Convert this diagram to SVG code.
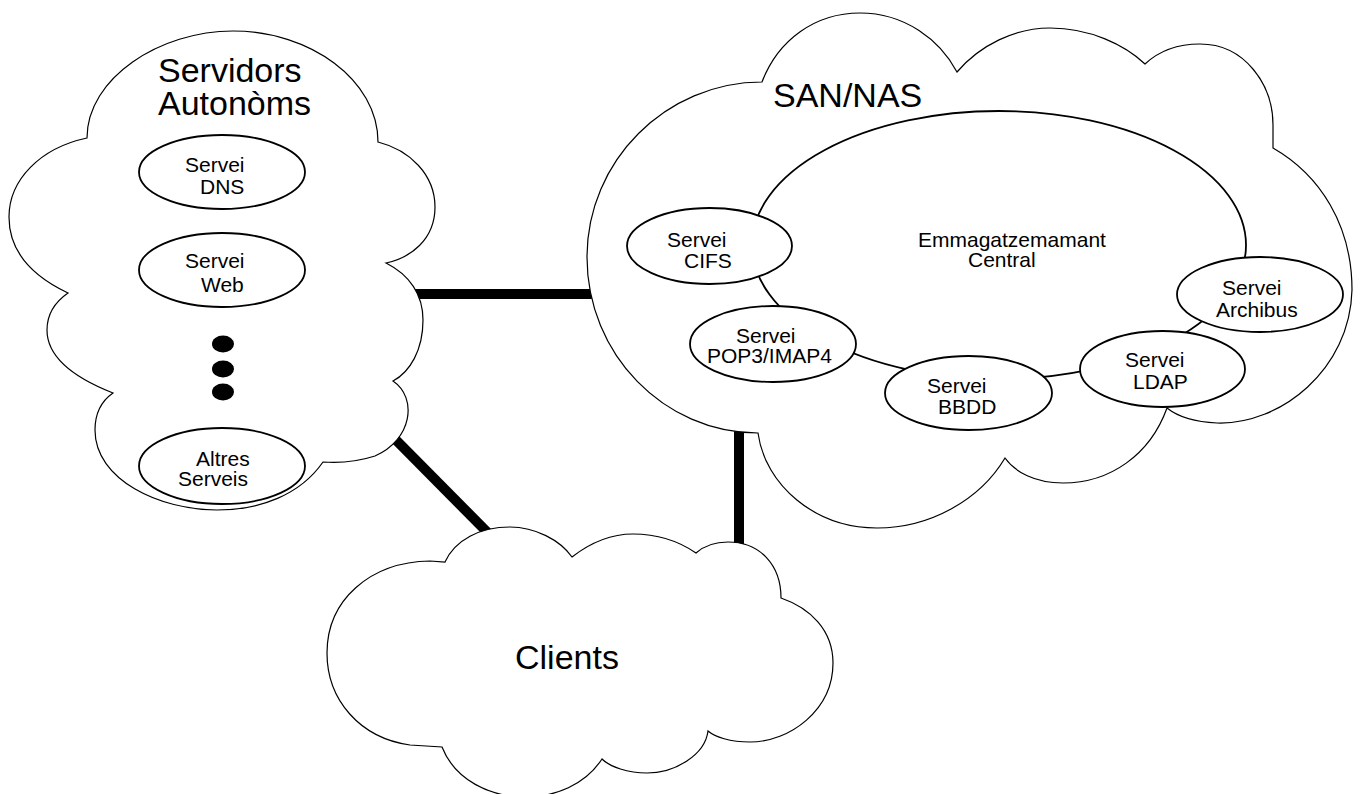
<svg xmlns="http://www.w3.org/2000/svg" width="1361" height="794" viewBox="0 0 1361 794">
  <style>
    .cloud { fill: #ffffff; stroke: #000000; stroke-width: 1.2; stroke-linejoin: miter; }
    .svc { fill: #ffffff; stroke: #000000; stroke-width: 1.8; }
    .store { fill: none; stroke: #000000; stroke-width: 1.8; }
    .link { stroke: #000000; stroke-width: 10; stroke-linecap: butt; fill: none; }
    .dot { fill: #000000; }
    text { font-family: "Liberation Sans", Arial, sans-serif; fill: #000000; }
    .big { font-size: 34px; }
    .small { font-size: 21px; }
  </style>

  <!-- thick network links between the three clouds -->
  <g id="connectors">
    <line class="link" x1="405" y1="294" x2="600" y2="294"/>
    <line class="link" x1="390" y1="434" x2="492" y2="537"/>
    <line class="link" x1="739" y1="425" x2="739" y2="550"/>
  </g>

  <!-- standalone servers -->
  <g id="servidors-autonoms">
    <path class="cloud" d="M87,138
      C87,78 160,31 233,31
      C310,31 378,80 378,142
      C410,150 435,175 435,207
      C435,240 410,258 386,263
      C410,275 423,295 423,320
      C423,350 410,372 393,381
      C418,398 412,440 375,456
      Q350,464 323,462
      C300,495 260,510 217,510
      C160,510 95,480 95,430
      C95,415 100,402 113,393
      C80,380 47,360 47,330
      C47,315 55,302 68,293
      C30,275 9,250 9,217
      C9,180 40,148 87,138 Z"/>
    <text class="big" x="158" y="82">Servidors</text>
    <text class="big" x="158" y="115">Autonòms</text>
  </g>

  <g id="servei-dns">
    <ellipse class="svc" cx="222" cy="172" rx="83" ry="37"/>
    <text class="small" x="185" y="172">Servei</text>
    <text class="small" x="200" y="194">DNS</text>
  </g>

  <g id="servei-web">
    <ellipse class="svc" cx="222" cy="270" rx="83" ry="37"/>
    <text class="small" x="185" y="268">Servei</text>
    <text class="small" x="201" y="292">Web</text>
  </g>

  <g id="ellipsis">
    <ellipse class="dot" cx="223" cy="344" rx="11" ry="8.5"/>
    <ellipse class="dot" cx="223" cy="369" rx="11" ry="8.5"/>
    <ellipse class="dot" cx="223" cy="392" rx="11" ry="8.5"/>
  </g>

  <g id="altres-serveis">
    <ellipse class="svc" cx="222" cy="466" rx="83" ry="38"/>
    <text class="small" x="196" y="466">Altres</text>
    <text class="small" x="178" y="486">Serveis</text>
  </g>

  <!-- storage network -->
  <g id="san-nas">
    <path class="cloud" d="M762,82
      C778,40 815,13 860,13
      C905,13 940,40 957,72
      C980,45 1015,28 1050,28
      C1090,28 1125,45 1145,64
      C1160,50 1180,44 1200,44
      C1245,44 1273,85 1273,125
      L1273,148
      C1320,175 1352,225 1352,290
      C1350,370 1280,425 1217,423
      C1195,422 1177,416 1167,408
      C1150,455 1110,483 1063,483
      C1035,483 1015,472 1005,458
      C980,500 930,528 877,528
      C815,528 765,485 758,433
      C664,433 587,354 587,257
      C587,161 666,82 762,82 Z"/>
    <text class="big" x="773" y="107">SAN/NAS</text>
  </g>

  <g id="emmagatzemament-central">
    <ellipse class="store" cx="999" cy="245" rx="247" ry="134"/>
    <text class="small" x="918" y="247">Emmagatzemamant</text>
    <text class="small" x="968" y="267">Central</text>
  </g>

  <g id="servei-cifs">
    <ellipse class="svc" cx="709.5" cy="246" rx="82.5" ry="38"/>
    <text class="small" x="667" y="247">Servei</text>
    <text class="small" x="684" y="268">CIFS</text>
  </g>

  <g id="servei-pop3-imap4">
    <ellipse class="svc" cx="773" cy="344" rx="83" ry="38"/>
    <text class="small" x="736" y="343">Servei</text>
    <text class="small" x="707" y="363">POP3/IMAP4</text>
  </g>

  <g id="servei-bbdd">
    <ellipse class="svc" cx="968.5" cy="393" rx="83.5" ry="37"/>
    <text class="small" x="927" y="393">Servei</text>
    <text class="small" x="938" y="414">BBDD</text>
  </g>

  <g id="servei-ldap">
    <ellipse class="svc" cx="1162.5" cy="369" rx="82.5" ry="38"/>
    <text class="small" x="1125" y="367">Servei</text>
    <text class="small" x="1133" y="389">LDAP</text>
  </g>

  <g id="servei-archibus">
    <ellipse class="svc" cx="1260" cy="294.5" rx="83" ry="37.5"/>
    <text class="small" x="1222" y="295">Servei</text>
    <text class="small" x="1216" y="317">Archibus</text>
  </g>

  <!-- client side -->
  <g id="clients">
    <path class="cloud" d="M445,562
      C455,540 480,527 510,527
      C535,527 560,540 572,557
      C590,543 610,534 633,534
      C660,534 680,542 696,553
      C705,545 718,542 728,542
      C760,542 781,565 781,598
      C810,608 833,630 833,663
      C833,710 790,742 750,742
      C730,742 715,737 708,731
      C705,755 675,773 647,773
      C628,773 610,767 602,759
      C585,785 555,797 525,797
      C490,797 455,780 442,747
      L410,745
      C360,738 327,700 327,653
      C327,600 370,562 430,561
      L445,562 Z"/>
    <text class="big" x="515" y="669">Clients</text>
  </g>
</svg>
